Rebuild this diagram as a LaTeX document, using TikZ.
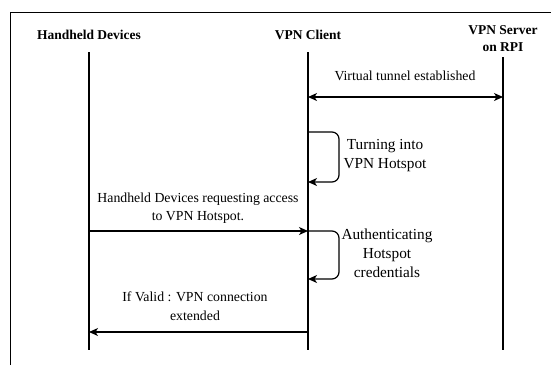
\documentclass[tikz,border=0pt]{standalone}
\usepackage{fontspec}
\setmainfont{Liberation Serif}
\usetikzlibrary{arrows.meta, positioning}

\begin{document}
\begin{tikzpicture}[
        x=1pt, y=-1pt,
        >={Stealth[length=9pt, width=8pt, inset=2.5pt]},
        actor/.style={font=\bfseries\fontsize{13.5}{17}\selectfont, align=center, inner sep=0pt},
        lifeline/.style={line width=1.9pt},
        msg/.style={line width=1.2pt, ->},
        selfmsg/.style={line width=1.2pt, ->, rounded corners=7pt},
        label/.style={font=\fontsize{13.8}{18.5}\selectfont, align=center, inner sep=0pt},
        selflabel/.style={font=\fontsize{15.3}{19}\selectfont, align=center, inner sep=0pt}
    ]
        \useasboundingbox (0,0) rectangle (551,365);

        % cadre
        \draw[line width=0.9pt] (10,365) -- (10,12.5) -- (551,12.5);

        % acteurs
        \node[actor] (hd) at (89,35) {Handheld Devices};
        \node[actor] (vc) at (308,35) {VPN Client};
        \node[actor] (vs) at (503,39) {VPN Server\\on RPI};

        % lignes de vie
        \coordinate (hdT) at (89,52);   \coordinate (hdB) at (89,350);
        \coordinate (vcT) at (308,52);  \coordinate (vcB) at (308,350);
        \coordinate (vsT) at (503,57);  \coordinate (vsB) at (503,350);
        \draw[lifeline] (hdT) -- (hdB);
        \draw[lifeline] (vcT) -- (vcB);
        \draw[lifeline] (vsT) -- (vsB);

        % tunnel virtuel
        \coordinate (tunA) at (308,97);  \coordinate (tunB) at (503,97);
        \draw[msg, <->] (tunA) -- (tunB);
        \node[label] (tun) at (405,76) {Virtual tunnel established};

        % hotspot
        \coordinate (hotA) at (308,132); \coordinate (hotB) at (308,182);
        \draw[selfmsg] (hotA) -- (339,132) |- (hotB);
        \node[selflabel] (hot) at (385,156) {Turning into\\VPN Hotspot};

        % requete des appareils
        \coordinate (reqA) at (89,231);  \coordinate (reqB) at (308,231);
        \draw[msg] (reqA) -- (reqB);
        \node[label] (req) at (198,208) {Handheld Devices requesting access\\to VPN Hotspot.};

        % authentification
        \coordinate (autA) at (308,231); \coordinate (autB) at (308,279);
        \draw[selfmsg] (autA) -- (339,231) |- (autB);
        \node[selflabel] (aut) at (387,253) {Authenticating\\Hotspot\\credentials};

        % reponse
        \coordinate (repA) at (308,332); \coordinate (repB) at (89,332);
        \draw[msg] (repA) -- (repB);
        \node[label] (rep) at (195,306) {If Valid : VPN connection\\extended};
    \end{tikzpicture}
\end{document}
